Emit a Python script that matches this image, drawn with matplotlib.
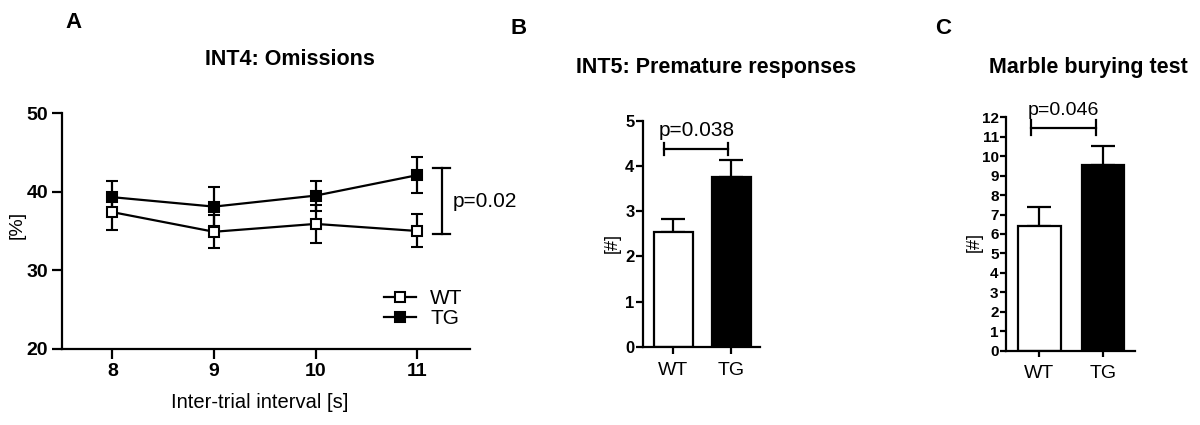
import matplotlib
matplotlib.use("Agg")
import matplotlib.pyplot as plt

plt.rcParams["font.family"] = ["Liberation Sans", "DejaVu Sans"]
NARROW = ["Liberation Sans Narrow", "Liberation Sans", "DejaVu Sans"]

# --- panel A: omissions over inter-trial interval
iti = [8, 9, 10, 11]
wt_omit = [37.4, 34.9, 35.9, 35.0]
wt_omit_err = [2.3, 2.1, 2.4, 2.1]
tg_omit = [39.3, 38.1, 39.5, 42.1]
tg_omit_err = [2.1, 2.5, 1.9, 2.3]
p_omit = "p=0.02"

# --- panel B / C: bar charts
groups = ["WT", "TG"]
premature = [2.53, 3.76]
premature_err = [0.30, 0.36]
p_premature = "p=0.038"
marbles = [6.41, 9.53]
marbles_err = [0.96, 1.01]
p_marbles = "p=0.046"

LW = 1.6

fig = plt.figure(figsize=(12, 4.25), dpi=100)


def style_axes(ax, ticklen):
    for s in ("top", "right"):
        ax.spines[s].set_visible(False)
    for s in ("left", "bottom"):
        ax.spines[s].set_linewidth(LW)
    ax.tick_params(width=LW, length=ticklen, direction="out")


# ---------------- A
axA = fig.add_axes([0.0517, 0.179, 0.340, 0.555])
wt_eb = axA.errorbar(iti, wt_omit, yerr=wt_omit_err, color="black", lw=LW,
                     marker="s", ms=7.5, mfc="white", mec="black", mew=1.5,
                     capsize=4.5, capthick=LW, elinewidth=LW, zorder=3)
tg_eb = axA.errorbar(iti, tg_omit, yerr=tg_omit_err, color="black", lw=LW,
                     marker="s", ms=7.5, mfc="black", mec="black", mew=1.5,
                     capsize=4.5, capthick=LW, elinewidth=LW, zorder=3)
axA.set_xlim(7.505, 11.52)
axA.set_ylim(20, 50)
axA.set_xticks(iti)
axA.set_yticks([20, 30, 40, 50])
style_axes(axA, 7)
axA.tick_params(axis="both", labelsize=14, pad=3)
for t in axA.get_xticklabels() + axA.get_yticklabels():
    t.set_fontweight("bold")
axA.set_xlabel("Inter-trial interval [s]", fontsize=14.5)
axA.xaxis.set_label_coords(0.485, -0.185)
axA.set_ylabel("[%]", fontsize=14)
axA.yaxis.set_label_coords(-0.09, 0.525)
# significance bracket
bx, by0, by1 = 11.24, 34.6, 43.0
axA.plot([bx, bx], [by0, by1], color="black", lw=LW, clip_on=False)
for yy in (by0, by1):
    axA.plot([bx - 0.085, bx + 0.085], [yy, yy], color="black", lw=LW,
             clip_on=False)
axA.text(11.35, 38.7, p_omit, fontsize=15, ha="left", va="center")
axA.legend([wt_eb[0], tg_eb[0]], ["WT", "TG"], loc="center left",
           bbox_to_anchor=(0.79, 0.17), frameon=False, fontsize=15,
           handlelength=1.5, handletextpad=0.7, labelspacing=0.05,
           borderpad=0, borderaxespad=0)


# ---------------- B and C
def bar_panel(rect, vals, errs, ymax, ticks, ticklen, ylab_xy, brk, ptxt,
              tick_family, tick_size, ylab_size, p_size):
    ax = fig.add_axes(rect)
    x = range(len(groups))
    ax.bar(x, vals, width=0.67, color=["white", "black"], edgecolor="black",
           lw=LW, zorder=2)
    ax.errorbar(x, vals, yerr=[[0] * len(errs), errs], fmt="none",
                ecolor="black", elinewidth=LW, capsize=8.5, capthick=LW,
                zorder=1)
    ax.set_xlim(-0.53, 1.5)
    ax.set_ylim(0, ymax)
    ax.set_xticks(list(x))
    ax.set_xticklabels(groups, fontsize=14)
    ax.set_yticks(ticks)
    ax.set_yticklabels([str(t) for t in ticks], fontsize=tick_size,
                       fontweight="bold", family=tick_family)
    style_axes(ax, ticklen)
    ax.tick_params(axis="x", pad=6)
    ax.tick_params(axis="y", pad=1)
    ax.set_ylabel("[#]", fontsize=ylab_size)
    ax.yaxis.set_label_coords(*ylab_xy)
    x0, x1, yb, cap, ty = brk
    ax.plot([x0, x1], [yb, yb], color="black", lw=LW, clip_on=False)
    for xx in (x0, x1):
        ax.plot([xx, xx], [yb - cap, yb + cap], color="black", lw=LW,
                clip_on=False)
    ax.text((x0 + x1) / 2, ty, ptxt, fontsize=p_size, ha="center",
            va="baseline", family=tick_family)
    return ax


bar_panel([0.5356, 0.184, 0.098, 0.532], premature, premature_err, 5,
          list(range(6)), 5, (-0.19, 0.46),
          (-0.16, 0.95, 4.37, 0.13, 4.66), p_premature,
          ["Liberation Sans"], 12, 13, 15)
bar_panel([0.838, 0.175, 0.1075, 0.549], marbles, marbles_err, 12,
          list(range(13)), 4, (-0.176, 0.467),
          (-0.13, 0.89, 11.47, 0.37, 12.12), p_marbles,
          NARROW, 11, 13, 14)

# titles and panel letters
fig.text(0.2417, 0.859, "INT4: Omissions", fontsize=15.5, fontweight="bold",
         ha="center", va="center")
fig.text(0.597, 0.842, "INT5: Premature responses", fontsize=15.5,
         fontweight="bold", ha="center", va="center")
fig.text(0.907, 0.84, "Marble burying test", fontsize=15.5,
         fontweight="bold", ha="center", va="center")
fig.text(0.061, 0.948, "A", fontsize=16, fontweight="bold", ha="center",
         va="center")
fig.text(0.4325, 0.934, "B", fontsize=16, fontweight="bold", ha="center",
         va="center")
fig.text(0.786, 0.934, "C", fontsize=16, fontweight="bold", ha="center",
         va="center")

fig.savefig("out.png", dpi=100)
